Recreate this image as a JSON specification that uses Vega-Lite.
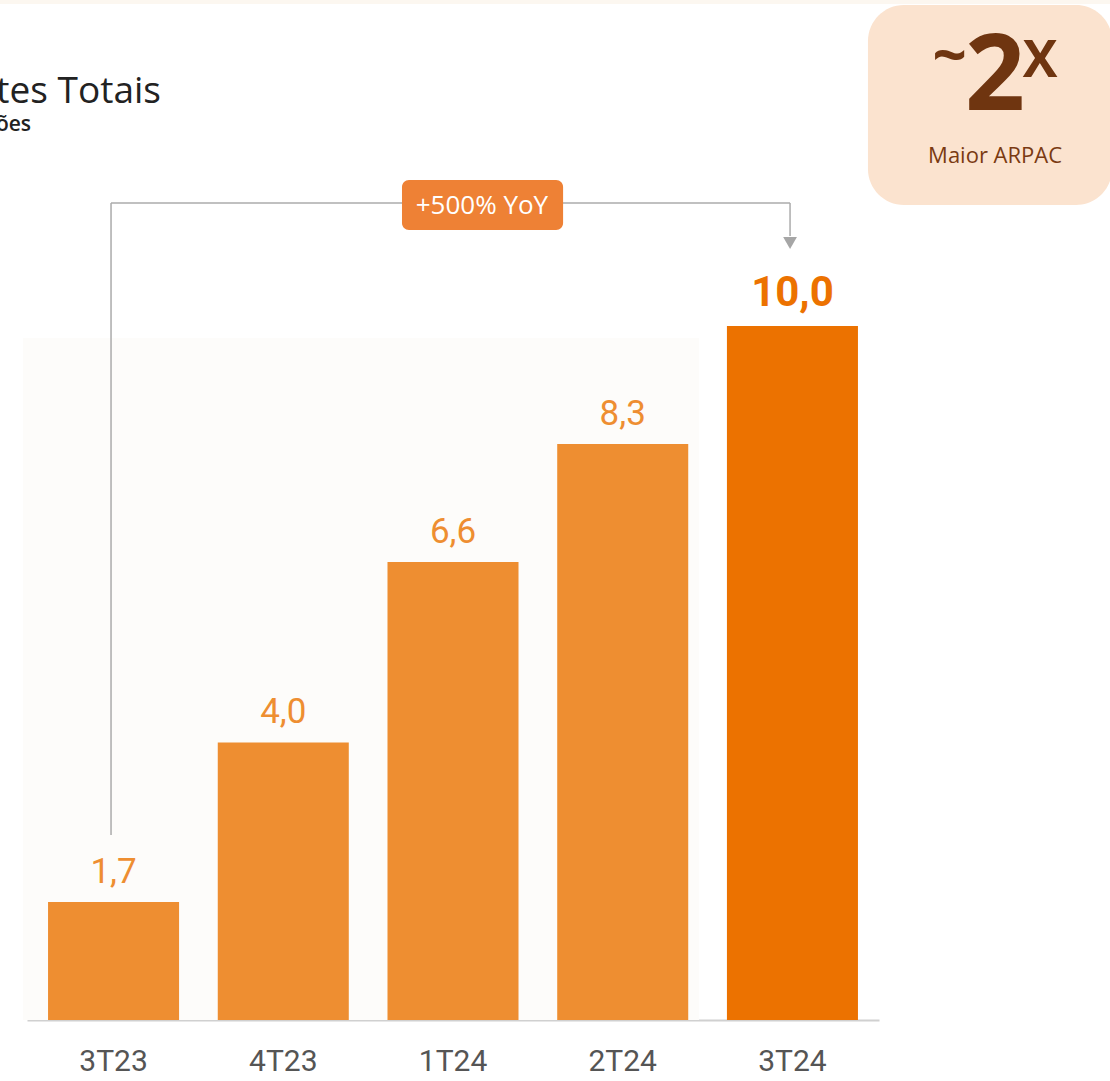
{
  "$schema": "https://vega.github.io/schema/vega-lite/v6.json",
  "width": 852,
  "height": 1020,
  "autosize": {"type": "none"},
  "padding": {"left": 27, "top": 0, "right": 231, "bottom": 61},
  "background": "white",
  "config": {"view": {"stroke": null}},
  "data": {"values": [
    {"q": "3T23", "v": 1.7, "label": "1,7"},
    {"q": "4T23", "v": 4.0, "label": "4,0"},
    {"q": "1T24", "v": 6.6, "label": "6,6"},
    {"q": "2T24", "v": 8.3, "label": "8,3"},
    {"q": "3T24", "v": 10.0, "label": "10,0"}
  ]},
  "resolve": {"scale": {"x": "independent"}, "axis": {"x": "independent"}},
  "layer": [
    {
      "data": {"values": [{}]},
      "encoding": {
        "x": {"datum": -0.534, "type": "quantitative", "scale": {"domain": [-0.51, 4.509], "nice": false, "zero": false}, "axis": null},
        "x2": {"datum": 3.449},
        "y": {"datum": 9.827, "type": "quantitative", "scale": {"domain": [0, 14.697], "nice": false, "zero": true}, "axis": null},
        "y2": {"datum": 0}
      },
      "mark": {"type": "rect", "fill": "#FDFCFA", "clip": false}
    },
    {
      "layer": [
        {
          "mark": {"type": "bar"},
          "encoding": {
            "x": {"field": "q", "type": "nominal", "sort": null,
              "scale": {"paddingInner": 0.228, "paddingOuter": 0.124},
              "axis": {"title": null, "ticks": false, "domainColor": "#D0D0D0", "domainWidth": 2,
                "labelFont": "Roboto", "labelFontSize": 30, "labelColor": "#555555", "labelPadding": 26, "labelAngle": 0}},
            "y": {"field": "v", "type": "quantitative", "scale": {"domain": [0, 14.697], "nice": false}, "axis": null},
            "color": {"condition": {"test": "datum.q === '3T24'", "value": "#EC7200"}, "value": "#EE8E31"}
          }
        },
        {
          "transform": [{"filter": "datum.q !== '3T24'"}],
          "mark": {"type": "text", "font": "Roboto", "fontSize": 35, "color": "#EE8E31", "baseline": "alphabetic", "dy": -19},
          "encoding": {
            "x": {"field": "q", "type": "nominal", "sort": null},
            "y": {"field": "v", "type": "quantitative"},
            "text": {"field": "label"}
          }
        },
        {
          "transform": [{"filter": "datum.q === '3T24'"}],
          "mark": {"type": "text", "font": "Roboto", "fontSize": 42, "fontWeight": "bold", "color": "#EC7200", "baseline": "alphabetic", "dy": -20},
          "encoding": {
            "x": {"field": "q", "type": "nominal", "sort": null},
            "y": {"field": "v", "type": "quantitative"},
            "text": {"field": "label"}
          }
        }
      ]
    },
    {
      "data": {"values": [{}]},
      "encoding": {
        "x": {"type": "quantitative", "scale": {"domain": [-0.51, 4.509], "nice": false, "zero": false}, "axis": null}
      },
      "layer": [
        {
          "mark": {"type": "rect", "fill": "#FCF7F0", "clip": false},
          "encoding": {"x": {"datum": -0.7, "type": "quantitative"}, "x2": {"datum": 6.2}, "y": {"datum": 14.697, "type": "quantitative"}, "y2": {"datum": 14.64}}
        },
        {
          "mark": {"type": "rule", "stroke": "#ABABAB", "strokeWidth": 1.5, "clip": false},
          "encoding": {"x": {"datum": -0.015, "type": "quantitative"}, "y": {"datum": 11.772, "type": "quantitative"}, "y2": {"datum": 2.666}}
        },
        {
          "mark": {"type": "rule", "stroke": "#ABABAB", "strokeWidth": 1.5, "clip": false},
          "encoding": {"x": {"datum": -0.015, "type": "quantitative"}, "x2": {"datum": 3.985}, "y": {"datum": 11.772, "type": "quantitative"}}
        },
        {
          "mark": {"type": "rule", "stroke": "#ABABAB", "strokeWidth": 1.5, "clip": false},
          "encoding": {"x": {"datum": 3.985, "type": "quantitative"}, "y": {"datum": 11.772, "type": "quantitative"}, "y2": {"datum": 11.297}}
        },
        {
          "mark": {"type": "point", "shape": "triangle-down", "filled": true, "fill": "#A6A6A6", "size": 190, "opacity": 1, "clip": false},
          "encoding": {"x": {"datum": 3.985, "type": "quantitative"}, "y": {"datum": 11.196, "type": "quantitative"}}
        },
        {
          "mark": {"type": "rect", "fill": "#EE8135", "cornerRadius": 7, "clip": false},
          "encoding": {"x": {"datum": 1.699, "type": "quantitative"}, "x2": {"datum": 2.648}, "y": {"datum": 12.104, "type": "quantitative"}, "y2": {"datum": 11.383}}
        },
        {
          "mark": {"type": "text", "text": "+500% YoY", "font": "Open Sans", "fontSize": 26, "color": "white", "align": "center", "baseline": "alphabetic", "clip": false},
          "encoding": {"x": {"datum": 2.17, "type": "quantitative"}, "y": {"datum": 11.614, "type": "quantitative"}}
        },
        {
          "mark": {"type": "rect", "fill": "#FBE3CF", "cornerRadius": 36, "clip": false},
          "encoding": {"x": {"datum": 4.444, "type": "quantitative"}, "x2": {"datum": 5.882}, "y": {"datum": 14.625, "type": "quantitative"}, "y2": {"datum": 11.744}}
        },
        {
          "mark": {"type": "text", "text": "~", "font": "Open Sans", "fontSize": 60, "fontWeight": "bold", "color": "#6F3510", "align": "center", "baseline": "alphabetic", "clip": false},
          "encoding": {"x": {"datum": 4.925, "type": "quantitative"}, "y": {"datum": 13.588, "type": "quantitative"}}
        },
        {
          "mark": {"type": "text", "text": "2", "font": "Open Sans", "fontSize": 105, "fontWeight": "bold", "color": "#6F3510", "align": "center", "baseline": "alphabetic", "clip": false},
          "encoding": {"x": {"datum": 5.193, "type": "quantitative"}, "y": {"datum": 13.112, "type": "quantitative"}}
        },
        {
          "mark": {"type": "text", "text": "X", "font": "Open Sans", "fontSize": 52, "fontWeight": "bold", "color": "#6F3510", "align": "center", "baseline": "alphabetic", "clip": false},
          "encoding": {"x": {"datum": 5.458, "type": "quantitative"}, "y": {"datum": 13.588, "type": "quantitative"}}
        },
        {
          "mark": {"type": "text", "text": "Maior ARPAC", "font": "Open Sans", "fontSize": 22, "color": "#7A3A12", "align": "center", "baseline": "alphabetic", "clip": false},
          "encoding": {"x": {"datum": 5.193, "type": "quantitative"}, "y": {"datum": 12.349, "type": "quantitative"}}
        },
        {
          "mark": {"type": "text", "text": "Clientes Totais", "font": "Open Sans", "fontSize": 37, "color": "#222222", "align": "right", "baseline": "alphabetic", "clip": false},
          "encoding": {"x": {"datum": 0.279, "type": "quantitative"}, "y": {"datum": 13.213, "type": "quantitative"}}
        },
        {
          "mark": {"type": "text", "text": "Em milhões", "font": "Open Sans", "fontSize": 21, "fontWeight": 600, "color": "#222222", "align": "right", "baseline": "alphabetic", "clip": false},
          "encoding": {"x": {"datum": -0.486, "type": "quantitative"}, "y": {"datum": 12.81, "type": "quantitative"}}
        }
      ]
    }
  ]
}
